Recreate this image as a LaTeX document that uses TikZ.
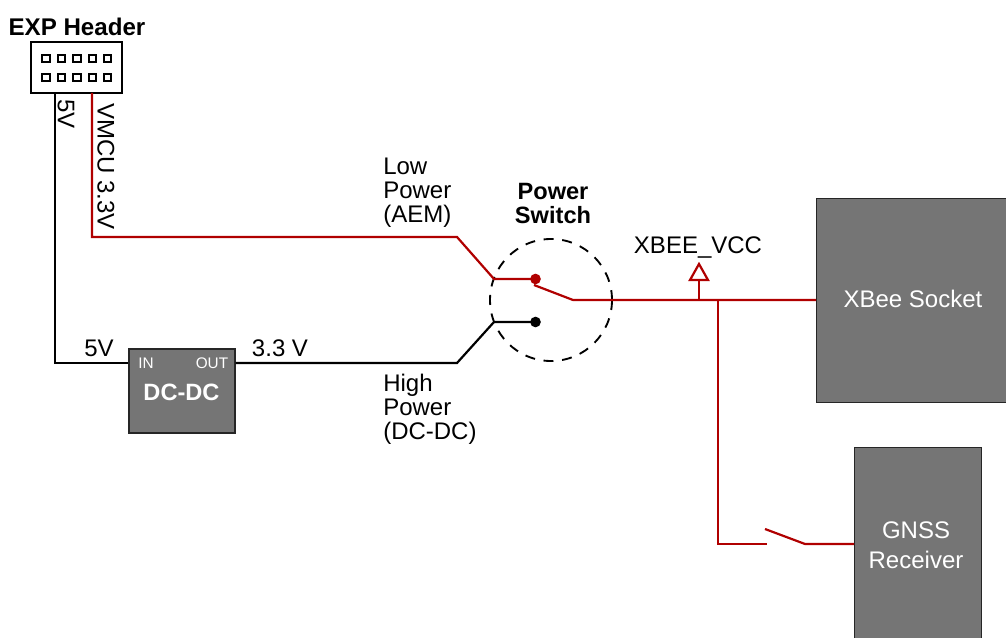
\documentclass[tikz,border=0pt]{standalone}
\usepackage{fontspec}
\setmainfont{Liberation Sans}
\definecolor{wirered}{HTML}{B00000}
\definecolor{boxgray}{HTML}{757575}
\newcommand{\lbl}{\fontsize{18}{18}\selectfont}
\tikzset{
  x=0.75pt,y=-0.75pt,
  wire/.style={line width=1.65pt,line join=miter},
  redwire/.style={wire,draw=wirered},
  blackwire/.style={wire,draw=black},
  block/.style={draw=black!85,line width=0.8pt,fill=boxgray,inner sep=0pt,text=white,align=center},
  txt/.style={inner sep=0pt,font=\lbl,align=center},
  txtl/.style={inner sep=0pt,font=\lbl,align=left,anchor=north west},
  btxt/.style={inner sep=0pt,font=\fontsize{17.7}{18}\selectfont\bfseries,align=center},
  pin/.style={draw=black,line width=1.6pt,fill=white,minimum size=5.4pt,inner sep=0pt},
  contact/.style={circle,minimum size=8pt,inner sep=0pt},
}
\begin{document}
\begin{tikzpicture}
\useasboundingbox (0,0) rectangle (1006,638);
% blocks
\node[draw=black,line width=1.5pt,fill=white,minimum width=68pt,minimum height=38pt,inner sep=0pt] (hdr) at (76.5,67.5) {};
\foreach \i/\x in {1/46,2/61.5,3/77,4/92.3,5/107.7}{
  \node[pin] (pa\i) at (\x,58.3) {};
  \node[pin] (pb\i) at (\x,77.3) {};
}
\node[block,minimum width=79.5pt,minimum height=63pt] (dc) at (182,391) {};
\node[block,minimum width=146pt,minimum height=153pt,anchor=north west] (xb) at (816,198) {};
\node[block,minimum width=95pt,minimum height=160pt,anchor=north west] (gn) at (854,447) {};
\node[inner sep=0pt,text=white,font=\lbl] at (913,299) {XBee Socket};
\node[inner sep=0pt,text=white,font=\lbl,align=center] at (916,545) {GNSS\\[4.5pt]Receiver};
\node[inner sep=0pt,text=white,font=\fontsize{11.5}{12}\selectfont] at (146,363) {IN};
\node[inner sep=0pt,text=white,font=\fontsize{11.5}{12}\selectfont] at (212,363) {OUT};
\node[inner sep=0pt,text=white,font=\fontsize{17.7}{18}\selectfont\bfseries] at (181.5,392) {DC-DC};
% switch
\draw[line width=1.4pt,dash pattern=on 7.5pt off 6.5pt] (551,300) circle[radius=61];
% coordinates
\coordinate (hv) at (92,93);
\coordinate (h5) at (55,93);
\coordinate (r1) at (92,237);
\coordinate (r2) at (457,237);
\coordinate (r3) at (494,279);
\coordinate (b1) at (55,363);
\coordinate (b2) at (457,363);
\coordinate (b3) at (494,322);
\coordinate (s0) at (534,285);
\coordinate (s1) at (573,300);
\coordinate (j1) at (699,300);
\coordinate (j2) at (718,300);
\coordinate (g1) at (718,544);
\coordinate (g2) at (767,544);
\coordinate (g3) at (765,529);
\coordinate (g4) at (805,544);
\node[contact,fill=wirered] (cr) at (535.5,279) {};
\node[contact,fill=black] (cb) at (535.5,322) {};
% wires
\draw[redwire] (hv) -- (r1) -- (r2) -- (r3) -- (cr.center);
\draw[blackwire] (h5) -- (b1) -- (dc.west |- b1);
\draw[blackwire] (dc.east |- b1) -- (b2) -- (b3) -- (cb.center);
\draw[redwire] (s0) -- (s1) -- (xb.west |- s1);
\draw[redwire,line width=2pt] (623,300) -- (657,300);
\draw[redwire] (j2) -- (g1) -- (g2);
\draw[redwire] (g3) -- (g4) -- (gn.west |- g4);
\coordinate (t0) at (699,280);
\draw[redwire] (j1) -- (t0);
\draw[redwire,fill=white] (690,280) -- (699,264) -- (708,280) -- cycle;
% labels
\node[inner sep=0pt,font=\fontsize{18.1}{18}\selectfont\bfseries] at (77,27) {EXP Header};
\node[txt,rotate=-90] at (66,114) {5V};
\node[txt,rotate=-90] at (106,166.5) {VMCU 3.3V};
\node[txtl] at (383,158) {Low\\Power\\(AEM)};
\node[txtl] at (383,374) {High\\Power\\(DC-DC)};
\node[btxt] at (553,203.5) {Power\\Switch};
\node[txt] at (698,247.5) {XBEE\_VCC};
\node[txt] at (99,348) {5V};
\node[txt] at (280,348) {3.3 V};
\end{tikzpicture}
\end{document}
